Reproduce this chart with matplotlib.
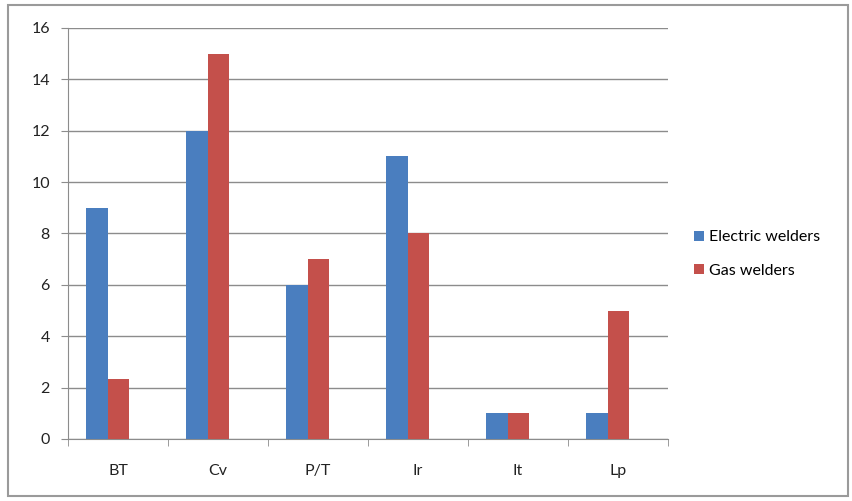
import numpy as np
import matplotlib
matplotlib.use('Agg')
import matplotlib.pyplot as plt
from matplotlib.patches import Rectangle

# Data
categories = ['BT', 'Cv', 'P/T', 'Ir', 'It', 'Lp']
electric = [9, 12, 6, 11, 1, 1]
gas = [2.35, 15, 7, 8, 1, 5]
yticks = [0, 2, 4, 6, 8, 10, 12, 14, 16]

plt.rcParams['font.family'] = ['Lato', 'DejaVu Sans']

fig = plt.figure(figsize=(8.52, 5.01), dpi=100)
ax = fig.add_axes([68 / 852, 62 / 501, 600 / 852, 411 / 501])

x = np.arange(len(categories))
w = 0.215
shift = -0.105  # bars sit a little left of the category centre in the original
ax.bar(x + shift - w / 2, electric, w, color='#4a7ebf', label='Electric welders', zorder=3)
ax.bar(x + shift + w / 2, gas, w, color='#c4504b', label='Gas welders', zorder=3)

ax.set_xlim(-0.5, len(categories) - 0.5)
ax.set_ylim(0, 16)
ax.set_yticks(yticks)
ax.set_yticklabels([str(v) for v in yticks], fontsize=11.5, color='#222222')
ax.yaxis.grid(True, color='#8c8c8c', linewidth=1, zorder=0)

# category labels in the middle, tick marks between categories
ax.set_xticks(x)
ax.set_xticklabels(categories, fontsize=11.5, color='#222222')
ax.tick_params(axis='x', length=0, pad=18)
ax.set_xticks(np.arange(-0.5, len(categories)), minor=True)
ax.tick_params(axis='x', which='minor', length=5, color='#8c8c8c', direction='out')
ax.tick_params(axis='y', length=5, color='#8c8c8c', pad=8)

for s in ['top', 'right']:
    ax.spines[s].set_visible(False)
for s in ['left', 'bottom']:
    ax.spines[s].set_color('#8c8c8c')

ax.legend(loc='center left', bbox_to_anchor=(1.02, 0.45), frameon=False,
          fontsize=11.5, handlelength=0.6, handleheight=0.6, handletextpad=0.3,
          labelspacing=1.2)

# outer chart border
fig.patches.append(Rectangle((8 / 852, 5 / 501), 840 / 852, 491 / 501,
                             transform=fig.transFigure, fill=False,
                             edgecolor='#9a9a9a', linewidth=1.5))

fig.savefig('out.png', dpi=100)
